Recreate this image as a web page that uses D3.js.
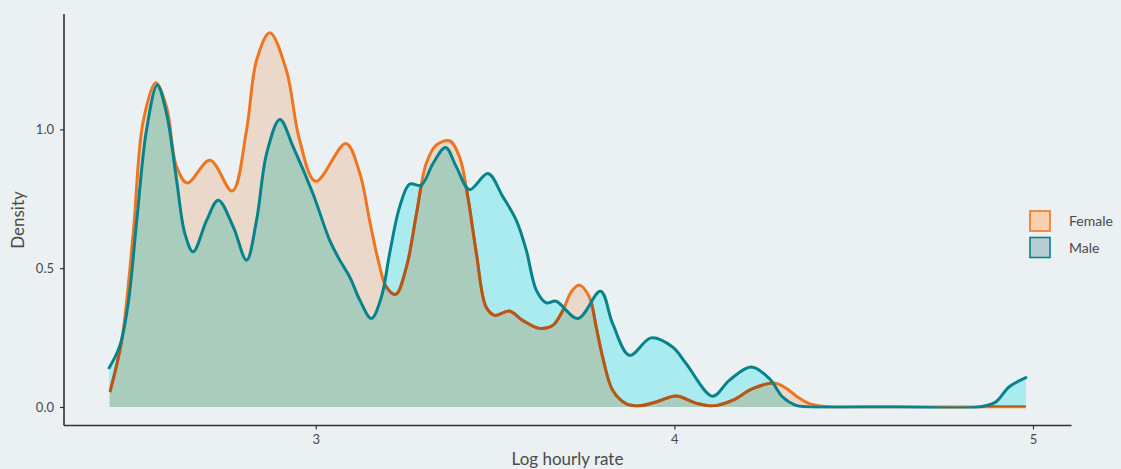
<!DOCTYPE html>
<html>
<head>
<meta charset="utf-8">
<script src="https://cdn.jsdelivr.net/npm/d3@7"></script>
<style>
  html, body { margin: 0; padding: 0; background: #EBF0F3; }
  svg { display: block; }
  text { font-family: Lato, "Open Sans", sans-serif; fill: #4a4a4a; }
</style>
</head>
<body>
<svg id="chart" width="1121" height="469"></svg>
<script>
// ---- data (log hourly rate, density) ----
const femaleX = [2.426, 2.459, 2.491, 2.519, 2.554, 2.584, 2.612, 2.642, 2.705, 2.767, 2.807, 2.835, 2.872, 2.918, 2.955, 3.000, 3.084, 3.123, 3.150, 3.174, 3.197, 3.223, 3.253, 3.281, 3.308, 3.336, 3.373, 3.401, 3.424, 3.448, 3.475, 3.499, 3.540, 3.577, 3.624, 3.661, 3.689, 3.712, 3.735, 3.763, 3.782, 3.800, 3.828, 3.865, 3.903, 3.949, 4.005, 4.060, 4.107, 4.162, 4.218, 4.279, 4.311, 4.348, 4.376, 4.412, 4.487, 4.700, 4.980];
const femaleY = [0.054, 0.240, 0.626, 1.030, 1.168, 1.080, 0.865, 0.807, 0.889, 0.778, 0.997, 1.249, 1.348, 1.213, 0.961, 0.813, 0.949, 0.841, 0.673, 0.529, 0.432, 0.406, 0.505, 0.697, 0.877, 0.943, 0.959, 0.901, 0.757, 0.553, 0.360, 0.330, 0.346, 0.312, 0.283, 0.294, 0.348, 0.414, 0.439, 0.396, 0.288, 0.180, 0.060, 0.012, 0.004, 0.018, 0.040, 0.014, 0.004, 0.024, 0.066, 0.086, 0.068, 0.032, 0.012, 0.003, 0.000, 0.000, 0.000];

const maleX = [2.424, 2.454, 2.477, 2.501, 2.528, 2.558, 2.584, 2.612, 2.635, 2.658, 2.696, 2.728, 2.770, 2.807, 2.835, 2.863, 2.900, 2.937, 2.992, 3.039, 3.067, 3.095, 3.123, 3.155, 3.183, 3.206, 3.234, 3.262, 3.294, 3.327, 3.362, 3.392, 3.429, 3.480, 3.522, 3.559, 3.587, 3.615, 3.643, 3.670, 3.731, 3.794, 3.828, 3.875, 3.935, 3.995, 4.033, 4.107, 4.153, 4.214, 4.265, 4.302, 4.339, 4.367, 4.627, 4.850, 4.896, 4.933, 4.980];
const maleY = [0.141, 0.222, 0.373, 0.673, 0.997, 1.159, 1.057, 0.817, 0.625, 0.559, 0.673, 0.745, 0.649, 0.529, 0.673, 0.913, 1.036, 0.937, 0.769, 0.600, 0.529, 0.468, 0.385, 0.319, 0.396, 0.553, 0.721, 0.803, 0.799, 0.877, 0.935, 0.865, 0.783, 0.841, 0.757, 0.673, 0.565, 0.421, 0.375, 0.381, 0.319, 0.417, 0.300, 0.186, 0.249, 0.216, 0.156, 0.039, 0.096, 0.144, 0.102, 0.036, 0.006, 0.001, 0.000, 0.000, 0.018, 0.072, 0.106];

const xTicks = [3, 4, 5];
const yTicks = [0.0, 0.5, 1.0];
const seriesNames = ["Female", "Male"];

// ---- styling ----
const col = {
  femaleLine: "#EF7620", femaleFill: "#EAD8CA", femaleUnder: "#B4571B",
  maleLine: "#06838B", maleFill: "#A9EBEF", overlap: "#AACCBD",
  femaleKey: "#FBD0AF", maleKey: "#B9CDD3", axis: "#333333"
};

const svg = d3.select("#chart");
const x = d3.scaleLinear().domain([2.298, 5.106]).range([64, 1071]);
const y = d3.scaleLinear().domain([-0.0667, 1.4157]).range([425.5, 14]);

const female = femaleX.map((v, i) => [v, femaleY[i]]);
const male = maleX.map((v, i) => [v, maleY[i]]);

const curve = d3.curveCatmullRom.alpha(0.5);
const area = d3.area().x(d => x(d[0])).y0(y(0)).y1(d => Math.min(y(d[1]), y(0))).curve(curve);
const line = d3.line().x(d => x(d[0])).y(d => y(d[1])).curve(curve);

const defs = svg.append("defs");
defs.append("clipPath").attr("id", "maleClip")
  .append("path").attr("d", area(male));
defs.append("clipPath").attr("id", "plotClip")
  .append("rect").attr("x", 0).attr("y", 0).attr("width", 1121).attr("height", y(0) + 1.6);

const g = svg.append("g").attr("clip-path", "url(#plotClip)");
// female area
g.append("path").attr("d", area(female)).attr("fill", col.femaleFill);
// male area
g.append("path").attr("d", area(male)).attr("fill", col.maleFill);
// overlap
g.append("path").attr("d", area(female)).attr("fill", col.overlap).attr("clip-path", "url(#maleClip)");
// female line
g.append("path").attr("d", line(female)).attr("fill", "none")
  .attr("stroke", col.femaleLine).attr("stroke-width", 3).attr("stroke-linejoin", "round");
g.append("path").attr("d", line(female)).attr("fill", "none")
  .attr("stroke", col.femaleUnder).attr("stroke-width", 3).attr("stroke-linejoin", "round")
  .attr("clip-path", "url(#maleClip)");
// male line
g.append("path").attr("d", line(male)).attr("fill", "none")
  .attr("stroke", col.maleLine).attr("stroke-width", 3).attr("stroke-linejoin", "round")
  .attr("stroke-linecap", "round");

// ---- axes ----
const xAxis = d3.axisBottom(x).tickValues(xTicks).tickFormat(d3.format("d")).tickSize(4).tickPadding(5);
const yAxis = d3.axisLeft(y).tickValues(yTicks).tickFormat(d3.format(".1f")).tickSize(4).tickPadding(6);

const gx = svg.append("g").attr("transform", `translate(0,${425.5})`).call(xAxis);
const gy = svg.append("g").attr("transform", `translate(64,0)`).call(yAxis);
[gx, gy].forEach(a => {
  a.select(".domain").attr("stroke", col.axis).attr("stroke-width", 1.6);
  a.selectAll(".tick line").attr("stroke", col.axis).attr("stroke-width", 1.2);
  a.selectAll(".tick text").attr("font-size", 13).attr("fill", "#4a4a4a")
    .attr("font-family", "Lato, 'Open Sans', sans-serif");
});
gx.select(".domain").attr("d", "M64,0H1071.5");
gy.select(".domain").attr("d", "M0,14V425.5");

svg.append("text").attr("x", 567.5).attr("y", 465).attr("text-anchor", "middle")
  .attr("font-size", 17).text("Log hourly rate");
svg.append("text").attr("transform", "translate(24,220) rotate(-90)").attr("text-anchor", "middle")
  .attr("font-size", 17).text("Density");

// ---- legend ----
const leg = svg.append("g");
const keys = [
  { name: seriesNames[0], fill: col.femaleKey, stroke: col.femaleLine },
  { name: seriesNames[1], fill: col.maleKey, stroke: col.maleLine }
];
keys.forEach((k, i) => {
  const ly = 211 + i * 26.5;
  leg.append("rect").attr("x", 1030).attr("y", ly).attr("width", 20).attr("height", 20)
    .attr("fill", k.fill).attr("stroke", k.stroke).attr("stroke-width", 1.6);
  leg.append("text").attr("x", 1069).attr("y", ly + 15).attr("font-size", 14).text(k.name);
});
</script>
</body>
</html>
